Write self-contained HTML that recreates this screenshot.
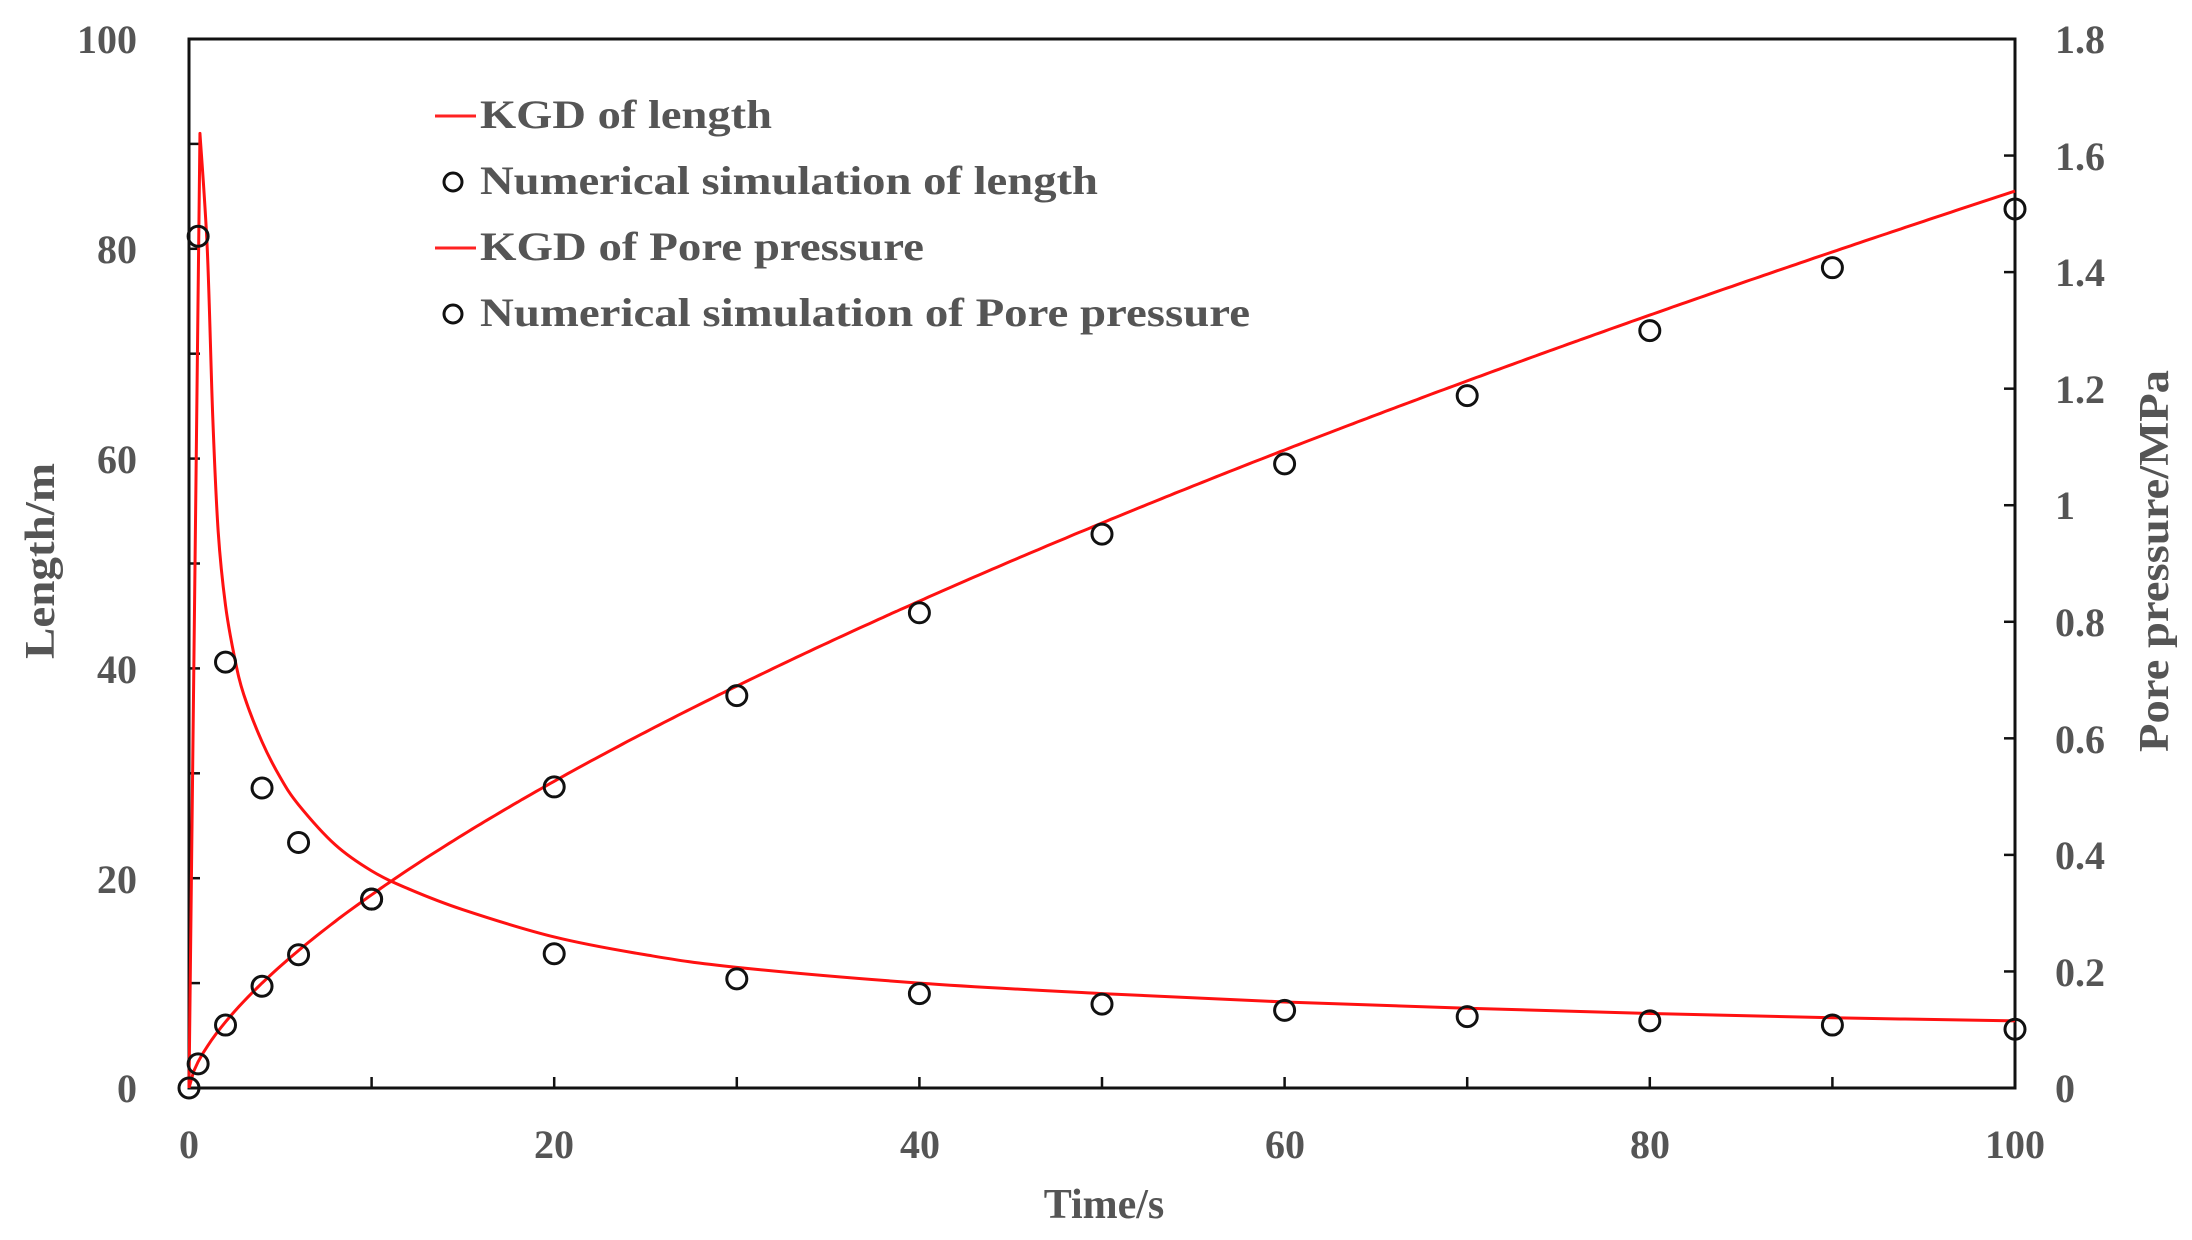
<!DOCTYPE html>
<html><head><meta charset="utf-8"><style>
html,body{margin:0;padding:0;background:#fff;width:2192px;height:1240px;overflow:hidden}
text{font-family:"Liberation Serif",serif;font-weight:bold;fill:#555}
</style></head><body>
<svg id="s" width="2192" height="1240" xmlns="http://www.w3.org/2000/svg">
<g id="g"></g>
<g font-size="40">
<text x="137" y="53" text-anchor="end">100</text>
<text x="137" y="263" text-anchor="end">80</text>
<text x="137" y="473" text-anchor="end">60</text>
<text x="137" y="683" text-anchor="end">40</text>
<text x="137" y="893" text-anchor="end">20</text>
<text x="137" y="1102" text-anchor="end">0</text>
<text x="2055" y="53">1.8</text>
<text x="2055" y="170">1.6</text>
<text x="2055" y="286">1.4</text>
<text x="2055" y="403">1.2</text>
<text x="2055" y="519">1</text>
<text x="2055" y="636">0.8</text>
<text x="2055" y="753">0.6</text>
<text x="2055" y="869">0.4</text>
<text x="2055" y="986">0.2</text>
<text x="2055" y="1102">0</text>
<text x="189" y="1158" text-anchor="middle">0</text>
<text x="554" y="1158" text-anchor="middle">20</text>
<text x="920" y="1158" text-anchor="middle">40</text>
<text x="1285" y="1158" text-anchor="middle">60</text>
<text x="1650" y="1158" text-anchor="middle">80</text>
<text x="2015" y="1158" text-anchor="middle">100</text>
</g>
<g font-size="42">
<text x="1104" y="1218" text-anchor="middle">Time/s</text>
<text transform="translate(54,561) rotate(-90)" text-anchor="middle" textLength="196" lengthAdjust="spacingAndGlyphs">Length/m</text>
<text transform="translate(2168,561) rotate(-90)" text-anchor="middle" textLength="382" lengthAdjust="spacingAndGlyphs">Pore pressure/MPa</text>
</g>
<g font-size="40">
<text x="480" y="128" textLength="292" lengthAdjust="spacingAndGlyphs">KGD of length</text>
<text x="480" y="194" textLength="618" lengthAdjust="spacingAndGlyphs">Numerical simulation of length</text>
<text x="480" y="260" textLength="444" lengthAdjust="spacingAndGlyphs">KGD of Pore pressure</text>
<text x="480" y="326" textLength="770" lengthAdjust="spacingAndGlyphs">Numerical simulation of Pore pressure</text>
</g>
<g stroke="#f22" stroke-width="3"><line x1="435" y1="116" x2="476" y2="116"/><line x1="435" y1="248" x2="476" y2="248"/></g>
<g stroke="#111" stroke-width="3" fill="none"><circle cx="453" cy="182" r="9"/><circle cx="453" cy="314" r="9"/></g>
</svg>
<script>
var X=function(t){return 189+t*18.26},Y=function(v){return 1088-v*10.49};
var g=document.getElementById('g'),h='';
h+='<rect x="189" y="39" width="1826" height="1049" fill="none" stroke="#111" stroke-width="3"/>';
for(var i=1;i<10;i++){h+='<line x1="'+X(i*10)+'" y1="1088" x2="'+X(i*10)+'" y2="1077" stroke="#111" stroke-width="2.5"/>';
h+='<line x1="189" y1="'+Y(i*10)+'" x2="200" y2="'+Y(i*10)+'" stroke="#111" stroke-width="2.5"/>';}
for(var i=1;i<9;i++){var y=1088-i*1049/9;h+='<line x1="2015" y1="'+y+'" x2="2004" y2="'+y+'" stroke="#111" stroke-width="2.5"/>';}
var p='';for(var t=0;t<=100;t+=0.25){p+=(p?'L':'M')+X(t).toFixed(1)+' '+Y(85.5*Math.pow(t/100,2/3)).toFixed(1);}
h+='<path d="'+p+'" fill="none" stroke="#f11" stroke-width="3"/>';
var pc=[[0,0],[0.6,91],[1.0,80],[1.3,64],[1.6,53],[2,46],[2.5,41],[3,37.5],[4,33],[5,29.6],[6,27],[8,23.2],[10,20.7],[12,19],[15,17],[20,14.4],[25,12.7],[30,11.5],[40,10],[50,9],[60,8.2],[70,7.6],[80,7.1],[90,6.7],[100,6.4]];
var pts=pc.map(function(d){return [X(d[0]),Y(d[1])]});
p='M'+pts[0][0]+' '+pts[0][1]+'L'+pts[1][0]+' '+pts[1][1];
for(var i=1;i<pts.length-1;i++){var p0=pts[i-1],p1=pts[i],p2=pts[i+1],p3=pts[Math.min(i+2,pts.length-1)];
if(i==1)p0=p1;
var c1=[p1[0]+(p2[0]-p0[0])/6,p1[1]+(p2[1]-p0[1])/6],c2=[p2[0]-(p3[0]-p1[0])/6,p2[1]-(p3[1]-p1[1])/6];
p+='C'+c1.join(' ')+' '+c2.join(' ')+' '+p2.join(' ');}
h+='<path d="'+p+'" fill="none" stroke="#f11" stroke-width="3" stroke-linejoin="round"/>';
var L=[[0,0],[0.5,2.3],[2,6],[4,9.7],[6,12.7],[10,18],[20,28.7],[30,37.4],[40,45.3],[50,52.8],[60,59.5],[70,66],[80,72.2],[90,78.2],[100,83.8]];
var P=[[0.5,81.2],[2,40.6],[4,28.6],[6,23.4],[10,18],[20,12.8],[30,10.4],[40,9],[50,8],[60,7.4],[70,6.8],[80,6.4],[90,6],[100,5.6]];
L.concat(P).forEach(function(d){h+='<circle cx="'+X(d[0])+'" cy="'+Y(d[1])+'" r="10" fill="none" stroke="#111" stroke-width="3"/>';});
g.innerHTML=h;
</script>
</body></html>
